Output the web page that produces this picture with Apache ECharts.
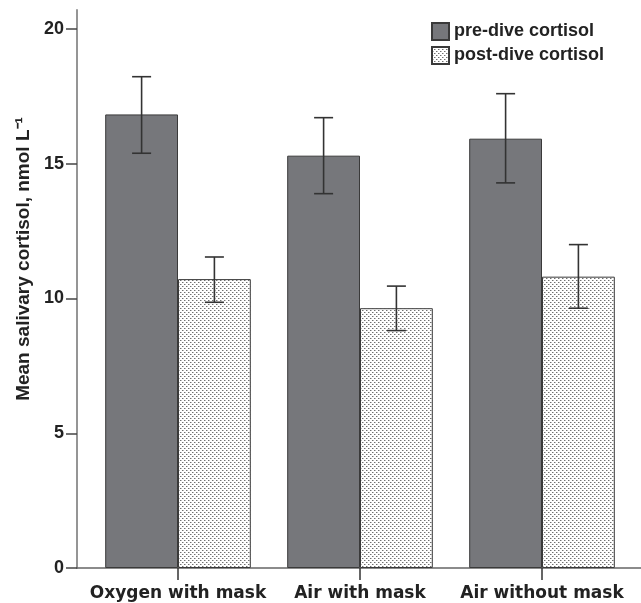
<!DOCTYPE html>
<html>
<head>
<meta charset="utf-8">
<script src="https://cdn.jsdelivr.net/npm/echarts@6/dist/echarts.min.js"></script>
<style>
html,body{margin:0;padding:0;background:#fff;}
#chart{width:641px;height:603px;}
</style>
</head>
<body>
<div id="chart"></div>
<script>
const categories = ['Oxygen with mask', 'Air with mask', 'Air without mask'];
const seriesNames = ['pre-dive cortisol', 'post-dive cortisol'];
const preMean = [16.83, 15.30, 15.93];
const preLow = [15.39, 13.89, 14.29];
const preHigh = [18.23, 16.71, 17.60];
const postMean = [10.72, 9.64, 10.81];
const postLow = [9.86, 8.81, 9.64];
const postHigh = [11.54, 10.46, 12.00];
const yMin = 0, yMax = 20, yStep = 5;
const yTitle = 'Mean salivary cortisol, nmol L\u207B\u00B9';

// dotted fill pattern
const pc = document.createElement('canvas');
pc.width = 4; pc.height = 4;
const pctx = pc.getContext('2d');
pctx.fillStyle = '#ffffff';
pctx.fillRect(0, 0, 4, 4);
pctx.fillStyle = '#707070';
pctx.fillRect(0, 0, 1, 1);
pctx.fillRect(2, 2, 1, 1);
pctx.fillStyle = '#bdbdbd';
pctx.fillRect(1, 0, 1, 1);
pctx.fillRect(3, 2, 1, 1);

const LBL = 'Liberation Sans, Arial, sans-serif';

function errRender(sign) {
  return function (params, api) {
    const c = api.value(0);
    const lo = api.coord([c, api.value(1)]);
    const hi = api.coord([c, api.value(2)]);
    const band = api.size([1, 0])[0];
    const x = lo[0] + sign * band * 0.2;
    const half = 9.5;
    const st = { stroke: '#333', lineWidth: 1.6 };
    return {
      type: 'group',
      children: [
        { type: 'line', shape: { x1: x, y1: hi[1], x2: x, y2: lo[1] }, style: st },
        { type: 'line', shape: { x1: x - half, y1: hi[1], x2: x + half, y2: hi[1] }, style: st },
        { type: 'line', shape: { x1: x - half, y1: lo[1], x2: x + half, y2: lo[1] }, style: st }
      ]
    };
  };
}

const chart = echarts.init(document.getElementById('chart'), null, { renderer: 'canvas' });
chart.setOption({
  animation: false,
  backgroundColor: '#ffffff',
  grid: [
    { left: 77, right: 0, top: 10, bottom: 35 },
    { left: 87, right: 8, top: 29, bottom: 35 }
  ],
  xAxis: [
    { type: 'value', gridIndex: 0, min: 0, max: 1,
      axisLine: { show: true, lineStyle: { color: '#666', width: 1.5 } },
      axisTick: { show: false }, axisLabel: { show: false }, splitLine: { show: false } },
    { type: 'category', gridIndex: 1, data: categories,
      axisLine: { show: false },
      axisTick: { show: true, alignWithLabel: true, length: 12, lineStyle: { color: '#333', width: 1.5 } },
      axisLabel: { interval: 0, margin: 17, fontFamily: 'DejaVu Sans', fontWeight: 'bold', fontSize: 17, color: '#222' },
      splitLine: { show: false } }
  ],
  yAxis: [
    { type: 'value', gridIndex: 0, min: 0, max: 1,
      axisLine: { show: true, lineStyle: { color: '#8a8a8a', width: 1.8 } },
      axisTick: { show: false }, axisLabel: { show: false }, splitLine: { show: false } },
    { type: 'value', gridIndex: 1, min: yMin, max: yMax, interval: yStep, offset: 10,
      axisLine: { show: false },
      axisTick: { show: true, length: 11, lineStyle: { color: '#444', width: 1.5 } },
      axisLabel: { margin: 13, fontFamily: LBL, fontWeight: 'bold', fontSize: 18, color: '#222' },
      splitLine: { show: false } }
  ],
  legend: {
    orient: 'vertical', left: 431, top: 22, padding: 0,
    itemWidth: 17, itemHeight: 17, itemGap: 5,
    icon: 'rect',
    data: seriesNames,
    textStyle: { fontFamily: LBL, fontWeight: 'bold', fontSize: 18, color: '#222' }
  },
  graphic: [
    { type: 'text', x: 24, y: 259, rotation: Math.PI / 2,
      style: { text: yTitle, align: 'center', verticalAlign: 'middle',
        font: 'bold 19px "Liberation Sans", Arial, sans-serif', fill: '#222' } }
  ],
  series: [
    { name: seriesNames[0], type: 'bar', xAxisIndex: 1, yAxisIndex: 1, data: preMean,
      barGap: '0%', barCategoryGap: '20%',
      itemStyle: { color: '#76777b', borderColor: '#3a3a3a', borderWidth: 1 } },
    { name: seriesNames[1], type: 'bar', xAxisIndex: 1, yAxisIndex: 1, data: postMean,
      barGap: '0%', barCategoryGap: '20%',
      itemStyle: { color: { image: pc, repeat: 'repeat' }, borderColor: '#3a3a3a', borderWidth: 1 } },
    { type: 'custom', xAxisIndex: 1, yAxisIndex: 1, z: 5, silent: true,
      renderItem: errRender(-1),
      encode: { x: 0, y: [1, 2] },
      data: categories.map((c, i) => [i, preLow[i], preHigh[i]]) },
    { type: 'custom', xAxisIndex: 1, yAxisIndex: 1, z: 5, silent: true,
      renderItem: errRender(1),
      encode: { x: 0, y: [1, 2] },
      data: categories.map((c, i) => [i, postLow[i], postHigh[i]]) }
  ]
});
</script>
</body>
</html>
